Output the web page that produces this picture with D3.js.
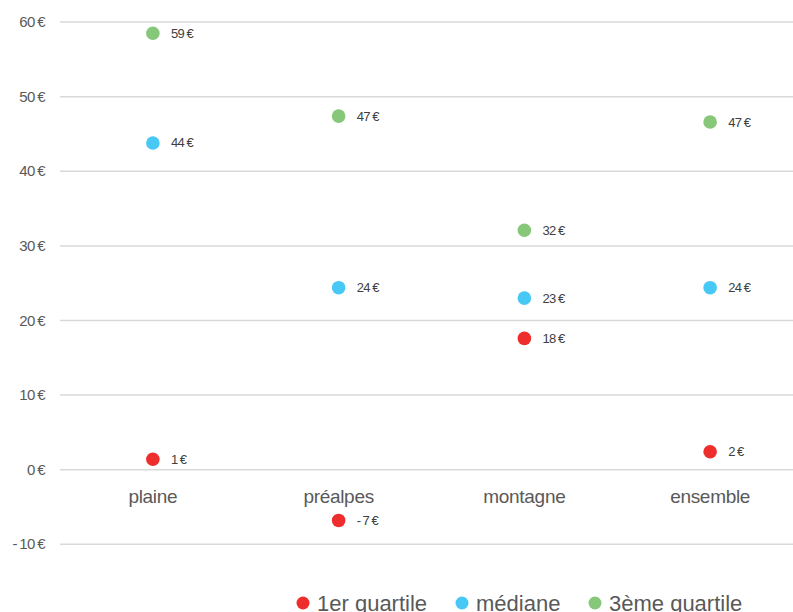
<!DOCTYPE html>
<html>
<head>
<meta charset="utf-8">
<script src="https://cdn.jsdelivr.net/npm/d3@7"></script>
<style>
  body { margin: 0; background: #fff; }
  svg { font-family: "Liberation Sans", Arial, sans-serif; }
</style>
</head>
<body>
<div id="chart"></div>
<script>
const categories = ["plaine", "préalpes", "montagne", "ensemble"];
const q1 = [1.4, -6.8, 17.6, 2.4];
const median = [43.8, 24.4, 23.0, 24.4];
const q3 = [58.5, 47.4, 32.1, 46.6];
const yTicks = [-10, 0, 10, 20, 30, 40, 50, 60];
const seriesNames = ["1er quartile", "médiane", "3ème quartile"];
const colors = ["#ee2d2d", "#47c8f5", "#86c77a"];

const width = 793, height = 612;
const margin = {top: 22, right: 0, bottom: 68, left: 60};

const svg = d3.select("#chart").append("svg")
  .attr("width", width)
  .attr("height", height);

// plot area is wider than the window: the last band runs past the edge
const x = d3.scaleBand().domain(categories)
  .range([margin.left, 803]);
const y = d3.scaleLinear().domain([-10, 60])
  .range([544.3, 22.1]);

const fmt = v => {
  const r = Math.round(v);
  return (r < 0 ? "-\u2009" + Math.abs(r) : r) + "\u2009€";
};

// gridlines
svg.append("g").selectAll("line")
  .data(yTicks)
  .enter().append("line")
    .attr("x1", margin.left)
    .attr("x2", width)
    .attr("y1", d => y(d))
    .attr("y2", d => y(d))
    .attr("stroke", "#d9d9d9")
    .attr("stroke-width", 1.5);

// y tick labels
svg.append("g").selectAll("text")
  .data(yTicks)
  .enter().append("text")
    .attr("x", 45)
    .attr("y", d => y(d) + 5)
    .attr("text-anchor", "end")
    .attr("fill", "#595959")
    .style("font-size", "15px")
    .style("letter-spacing", "-0.6px")
    .text(d => d < 0 ? "-\u2009" + Math.abs(d) + "\u2009€" : d + "\u2009€");

// category labels under zero line
svg.append("g").selectAll("text")
  .data(categories)
  .enter().append("text")
    .attr("x", d => x(d) + x.bandwidth() / 2)
    .attr("y", y(0) + 33)
    .attr("text-anchor", "middle")
    .attr("fill", "#595959")
    .style("font-size", "19px")
    .style("letter-spacing", "-0.3px")
    .text(d => d);

// points
const series = [q1, median, q3];
series.forEach((vals, si) => {
  const g = svg.append("g");
  const pts = categories.map((c, i) => ({c: c, v: vals[i]}));
  g.selectAll("circle")
    .data(pts)
    .enter().append("circle")
      .attr("cx", d => x(d.c) + x.bandwidth() / 2)
      .attr("cy", d => y(d.v))
      .attr("r", 6.8)
      .attr("fill", colors[si]);
  g.selectAll("text")
    .data(pts)
    .enter().append("text")
      .attr("x", d => x(d.c) + x.bandwidth() / 2 + 18)
      .attr("y", d => y(d.v) + 4.5)
      .attr("fill", "#404040")
      .style("font-size", "13px")
      .style("letter-spacing", "-0.5px")
      .text(d => fmt(d.v));
});

// legend
const legendX = [303, 462, 595];
const legend = svg.append("g").selectAll("g")
  .data(seriesNames)
  .enter().append("g")
    .attr("transform", (d, i) => "translate(" + legendX[i] + "," + 603 + ")");
legend.append("circle")
  .attr("r", 6.5)
  .attr("fill", (d, i) => colors[i]);
legend.append("text")
  .attr("x", 14)
  .attr("y", 7.5)
  .attr("fill", "#595959")
  .style("font-size", "22px")
  .text(d => d);
</script>
</body>
</html>
